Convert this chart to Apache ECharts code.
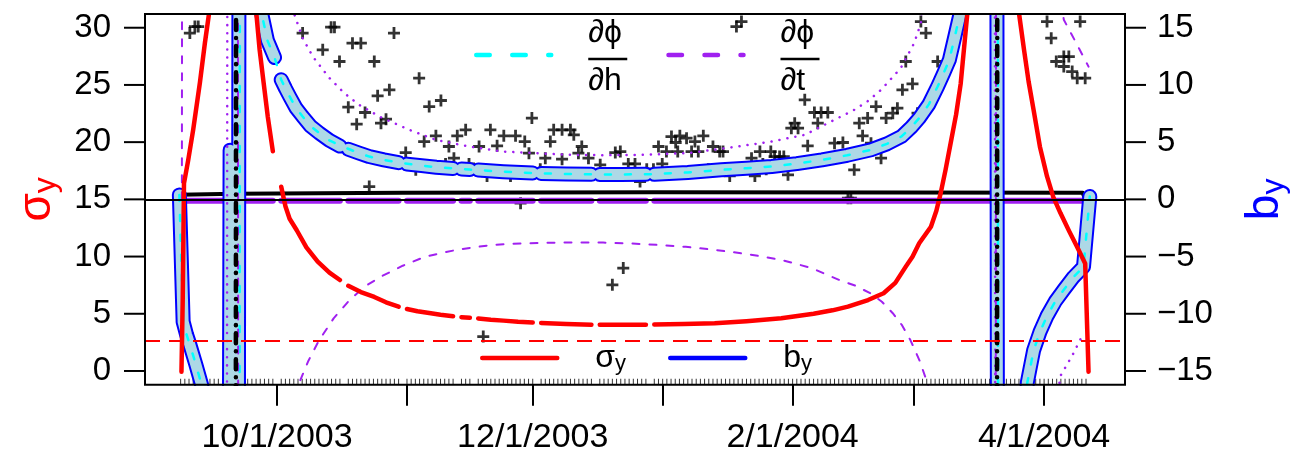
<!DOCTYPE html>
<html><head><meta charset="utf-8">
<script src="https://cdn.jsdelivr.net/npm/echarts@6/dist/echarts.min.js"></script>
<style>html,body{margin:0;padding:0;background:#fff}#c{width:1298px;height:456px}</style>
</head><body><div id="c"></div>
<script>
// x = days after 1 Oct 2003
const xTickDays = [0, 31, 61, 92, 123, 152, 183];
const xLabelDays = [0, 61, 123, 183];
const xLabels = ['10/1/2003', '12/1/2003', '2/1/2004', '4/1/2004'];
const sigmaTicks = [0, 5, 10, 15, 20, 25, 30];
const bTicks = [-15, -10, -5, 0, 5, 10, 15];
const sigmaRef = 2.63;
const bRef = 0;

// sigma_y (left axis)
const sigmaData = [[-22.8,-0.06],[-22.5,6.2],[-22.2,16.4],[-21.2,18.4],[-20.0,21.1],[-18.4,25.2],[-17.2,28.7],[-16.2,31.3],[-15,40],[-12.5,80],[-10,300],[-7.5,80],[-6,50],[-4.95,31.3],[-4.16,28.1],[-3.2,25.2],[-2.2,22.2],[-1,19.2],null,[1,16.1],[2,14.4],[3,13.3],[4.7,12.3],[7,10.8],[9.7,9.55],[12.5,8.6],[15,7.95],null,[17,7.45],[20,6.9],[23.2,6.47],[26,6.0],[29,5.62],null,[31,5.42],[33.5,5.22],[36.3,5.07],[39,4.92],[42,4.78],null,[44,4.70],[46,4.65],null,[48,4.59],[51,4.48],[54,4.4],[57.5,4.3],[61,4.23],null,[63,4.19],[69,4.1],[75,4.05],null,[77,4.05],[82,4.04],[88,4.05],null,[90,4.07],[97,4.1],[104.4,4.17],[112,4.35],[120.3,4.61],[128,5.0],[132.5,5.3],[136.2,5.62],[141,6.2],[144.7,6.79],[147.5,7.7],[150,9.12],[151.6,9.99],[153.2,11.16],[156,12.61],[157.3,14.0],[158.3,15.5],[159.5,17.6],[160.7,19.9],[162,22.4],[163.1,25.1],[164.7,31.3],[166.5,45],[169,90],[171.5,300],[174,90],[175.8,45],[177,31.3],[178.2,28.1],[179.3,25.3],[180.5,22.8],[182,19.6],[183.7,17.0],[185.2,15.2],[186.9,13.8],[189,12.2],[190.8,10.9],[192.8,9.4],[193.6,-0.06]];

// b_y (right axis)
const bData = [[-23.3,0.39],[-22.4,-10.7],[-21.6,-11.8],[-20.8,-12.7],[-19.4,-14.4],[-18.0,-16.2],[-16,-22],[-14.5,-60],[-13.2,-300],[-11.2,4.3],[-10.1,-300],[-8.2,300],[-6,25],[-3.7,16.3],[-2.3,13.9],[-0.6,12.4],null,[1.0,10.45],[2,9.7],[3.0,9.0],[4.5,8.0],[6.1,7.24],[8,6.4],[10.1,5.79],[12.5,5.15],[15,4.66],null,[17,4.38],[19.5,4.05],[22,3.74],[25.5,3.45],[29,3.21],null,[31,3.08],[34.5,2.95],[38,2.81],[42,2.70],null,[44,2.65],[46,2.61],null,[48,2.56],[54,2.42],[61,2.30],null,[63,2.27],[69,2.22],[75,2.19],null,[77,2.18],[82,2.18],[88,2.19],null,[90,2.19],[98,2.35],[106,2.58],[112,2.72],[118,2.87],[124,3.12],[130,3.45],[136,3.85],[141.7,4.33],[145.5,4.85],[149,5.5],[151.3,6.3],[153.2,7.1],[155.5,8.3],[157.6,9.86],[159,11.0],[160.4,12.19],[161.8,14.38],[163,16.3],[165,25],[170.9,300],[172.7,-300],[175,-60],[177.5,-25],[179,-16.0],[180.5,-13.2],[182,-11.6],[183.7,-10.2],[185.7,-8.9],[187.7,-7.9],[190,-6.8],[192.4,-5.9],[193.9,0.25]];

// dphi/dh
const dhData = [[-23.3,0.39],[-22.4,-10.7],[-21.6,-11.8],[-20.8,-12.7],[-19.4,-14.4],[-18,-16.2],[-15,-30],[-11.5,-80],[-9.3,-300],[-8.5,300],[-6,25],[-3.7,16.3],[-2.3,13.9],[-0.6,12.4],[1,10.45],[2,9.7],[3,9.0],[4.5,8.0],[6.1,7.24],[8,6.4],[10.1,5.79],[12.5,5.15],[15.6,4.62],[19.5,4.05],[22,3.74],[25.5,3.45],[29,3.21],[34.5,2.95],[38,2.81],[46,2.6],[54,2.42],[61.6,2.29],[69,2.22],[76,2.18],[82,2.18],[88.5,2.19],[98,2.35],[106,2.58],[112,2.72],[118,2.87],[124,3.12],[130,3.45],[136,3.85],[141.7,4.33],[145.5,4.85],[149,5.5],[151.3,6.3],[153.2,7.1],[155.5,8.3],[157.6,9.86],[159,11.0],[160.4,12.19],[161.8,14.38],[163,16.3],[165,25],[171.6,300],[172.4,-300],[175,-60],[177.5,-25],[179,-16.0],[180.5,-13.2],[182,-11.6],[183.7,-10.2],[185.7,-8.9],[187.7,-7.9],[190,-6.8],[192.4,-5.9],[193.9,0.25]];

// dphi/dt
const dtData = [[-22.7,0],[-22.3,200],[-9.6,200],[-9.0,-200],[-1,-60],[3,-25],[5.1,-16.2],[7.5,-14.1],[9.9,-12.4],[13.5,-10.4],[17.3,-8.8],[21,-7.6],[24.8,-6.75],[30,-5.8],[35.4,-5.0],[43,-4.4],[51.3,-3.98],[59,-3.84],[67.2,-3.78],[77.8,-3.78],[84,-3.85],[90.6,-3.98],[97.5,-4.15],[104.4,-4.41],[112.5,-4.8],[120.3,-5.29],[127.5,-6.0],[134.1,-7.04],[138,-7.55],[141.5,-8.2],[144.3,-8.95],[146.9,-9.95],[149.1,-11.0],[151.1,-12.3],[153.3,-14.1],[155.3,-16.2],[158,-25],[165,-60],[171.1,-200],[171.9,200],[178,60],[184,25],[187.7,15.7],[190.9,13.5],[193.6,11.6]];

// purple dotted curve
const dotData = [[-12.3,-200],[-11.5,200],[-5,60],[2,30],[4.2,16.1],[6.1,14.1],[8.5,12.5],[12.5,10.6],[16,9.3],[19.6,8.26],[24.4,7.24],[31.5,6.08],[37.9,5.2],[45.8,4.62],[53.7,4.18],[61.6,4.04],[69.6,3.89],[78,3.86],[86.2,3.89],[98.1,4.04],[110,4.62],[117.9,5.05],[125.9,5.64],[131.4,6.66],[137.7,7.82],[141,8.6],[144.1,9.57],[148.8,11.47],[152,13.65],[153.6,15.4],[156,25],[165,60],[170.9,200],[171.7,-200],[178,-60],[183,-30],[186.8,-15.5],[189.8,-13.6],[192.4,-11.7]];

// thick purple near zero
const purpleZeroData = [[-23,-0.12],[-1,-0.12],null,[1,-0.12],[15,-0.12],null,[17,-0.12],[29,-0.12],null,[31,-0.12],[42,-0.12],null,[44,-0.12],[46,-0.12],null,[48,-0.12],[61,-0.12],null,[63,-0.12],[75,-0.12],null,[77,-0.12],[88,-0.12],null,[90,-0.12],[192.3,-0.12]];

// black near-zero line and its dash-dot pole lines
const blackZeroData = [[-23.3,0.4],[-10,0.5],[30,0.58],[90,0.62],[150,0.6],[192.2,0.57],[192.7,0.1]];
const blackPoleData = [[-10.2,-300],[-9.4,300],null,[171.4,-300],[172.2,300]];

// observation days (rug)
const rugSpans = [[-23,-1],[1,15],[17,29],[31,42],[44,46],[48,61],[63,75],[77,88],[90,193]];

// + points (b units)
const plusData = [[-23.2,0.02],[-20.8,14.53],[-19.6,15.10],[-18.8,15.10],[6.1,14.53],[10.9,13.07],[12.9,15.05],[13.7,15.05],[14.9,12.05],[17.0,8.06],[18.0,13.65],[19.0,6.57],[20.0,13.65],[21.0,7.59],[22.0,1.12],[23.2,12.05],[24.0,9.05],[24.8,6.66],[26.0,7.01],[26.8,9.57],[27.9,14.53],[29.1,3.10],[30.7,4.09],[32.2,3.10],[33.1,2.58],[33.9,10.59],[35.1,5.05],[36.3,8.11],[37.9,5.55],[39.1,8.64],[40.2,3.10],[41.0,4.62],[42.2,3.60],[43.0,5.55],[45.0,6.08],[45.8,3.10],[48.2,4.62],[49.2,-11.99],[50.1,2.05],[50.9,6.08],[52.5,4.68],[54.1,5.55],[55.7,2.05],[56.9,5.55],[58.1,-0.33],[59.1,5.05],[60.1,4.04],[60.8,7.10],[62.8,2.64],[64.0,3.60],[65.2,5.05],[66.0,6.08],[68.0,6.08],[68.0,3.51],[70.0,6.08],[70.8,5.64],[71.9,4.04],[72.7,4.62],[74.3,3.60],[77.1,3.02],[79.1,2.05],[80.0,-7.47],[80.7,4.09],[81.9,4.18],[82.6,-6.01],[83.8,3.10],[85.4,3.10],[86.6,1.56],[88.2,2.64],[89.8,2.64],[91.0,4.62],[91.9,3.10],[92.9,4.18],[94.1,5.49],[95.1,4.97],[95.6,4.18],[96.1,5.55],[97.7,5.35],[98.9,4.18],[99.7,5.05],[100.5,4.18],[101.7,5.55],[102.9,2.64],[104.0,4.62],[105.6,4.18],[106.4,4.18],[108.0,2.05],[108.8,2.64],[109.6,15.10],[110.8,15.54],[113.2,3.60],[114.0,2.05],[115.2,4.18],[115.9,3.10],[116.7,2.64],[117.8,4.18],[118.7,3.74],[119.9,3.74],[120.9,3.74],[121.9,2.14],[122.7,6.22],[123.5,6.66],[124.3,6.22],[125.9,8.70],[126.6,4.68],[128.2,7.59],[129.0,6.66],[129.8,7.59],[131.4,7.59],[133.0,4.91],[135.0,4.97],[136.2,0.10],[136.9,0.10],[137.7,2.58],[138.9,6.66],[139.7,5.55],[140.9,7.10],[141.7,4.91],[142.9,8.11],[144.1,3.60],[145.3,7.10],[146.9,7.53],[148.0,7.97],[149.2,9.57],[150.0,12.05],[151.6,10.10],[152.8,7.53],[153.6,15.54],[154.8,14.53],[157.6,12.05],[183.7,15.54],[184.7,14.09],[185.9,12.05],[187.7,12.48],[187.7,11.61],[188.9,12.48],[189.7,11.17],[190.9,10.59],[191.6,15.54],[192.8,10.59],[193.6,0.02]];

const FONT = 'Liberation Sans';
const X_MIN = -31.5, X_MAX = 202.3;
const S_MIN = -1.2, S_MAX = 31.2, B_MIN = -16.2, B_MAX = 16.2;
const PLOT = { left: 145, right: 170, top: 14, bottom: 71.3 };
const TICK_LEN = 21;

const pts = arr => arr.map(p => p === null ? [null, null] : p);
const rugData = [];
rugSpans.forEach(([a, b]) => { for (let d = a; d <= b; d++) rugData.push([d, B_MIN + 0.26]); });

function line(name, data, axis, color, width, type, extra) {
  return Object.assign({
    type: 'line', name: name, data: pts(data), yAxisIndex: axis, symbol: 'none', showSymbol: false,
    silent: true, connectNulls: false, animation: false,
    lineStyle: { color: color, width: width, type: type, cap: 'round', join: 'round' },
    itemStyle: { color: color }, emphasis: { disabled: true }
  }, extra || {});
}
const minus = v => (v < 0 ? '\u2212' + (-v) : String(v));
// tick mark drawn as part of each y label (a thin black bar next to the axis)
const tickRich = {
  n: { fontSize: 33, fontFamily: FONT, color: '#000' },
  gl: { width: 13, fontSize: 4 },
  gr: { width: 11, fontSize: 4 },
  k: { width: TICK_LEN, height: 2, lineHeight: 4, fontSize: 2, backgroundColor: '#000' }
};
const yAxisBase = { axisLine: { show: false, onZero: false }, splitLine: { show: false }, axisTick: { show: false }, z: 10 };

const option = {
  animation: false,
  backgroundColor: '#fff',
  grid: { left: PLOT.left, right: PLOT.right, top: PLOT.top, bottom: PLOT.bottom, show: true, borderColor: '#000', borderWidth: 2, z: 10, backgroundColor: 'transparent' },
  xAxis: { type: 'value', min: X_MIN, max: X_MAX, z: 10,
    axisLine: { show: false, onZero: false }, splitLine: { show: false },
    axisTick: { show: true, inside: false, customValues: xTickDays, length: TICK_LEN, lineStyle: { color: '#000', width: 2 } },
    axisLabel: { customValues: xLabelDays, formatter: v => { const i = xLabelDays.indexOf(v); return i >= 0 ? xLabels[i] : ''; },
      fontSize: 34, color: '#000', fontFamily: FONT, margin: 36 } },
  yAxis: [
    Object.assign({ type: 'value', position: 'left', min: S_MIN, max: S_MAX,
      axisLabel: { customValues: sigmaTicks, formatter: v => '{n|' + v + '}{gl| }{k| }', rich: tickRich, margin: 0 },
      name: '{s|\u03c3}{u|y}', nameLocation: 'middle', nameRotate: 90, nameGap: 83,
      nameTextStyle: { rich: { s: { fontSize: 46, color: '#FF0000', fontFamily: FONT }, u: { fontSize: 32, color: '#FF0000', fontFamily: FONT, padding: [18, 0, 0, 0] } } } }, yAxisBase),
    Object.assign({ type: 'value', position: 'right', min: B_MIN, max: B_MAX,
      axisLabel: { customValues: bTicks, formatter: v => '{k| }{gr| }{n|' + minus(v) + '}', rich: tickRich, margin: 0 },
      name: '{s|b}{u|y}', nameLocation: 'middle', nameRotate: 90, nameGap: 115,
      nameTextStyle: { rich: { s: { fontSize: 46, color: '#0000FF', fontFamily: FONT }, u: { fontSize: 32, color: '#0000FF', fontFamily: FONT, padding: [18, 0, 0, 0] } } } }, yAxisBase)
  ],
  legend: [
    { data: ['dphidh', 'dphidt'], left: 474, top: 17, orient: 'horizontal', itemWidth: 75, itemHeight: 14, itemGap: 39, padding: 0, selectedMode: false,
      itemStyle: { opacity: 0 },
      lineStyle: { width: 4.5, type: [13.5, 22.5], cap: 'round' },
      formatter: n => '{n|\u2202\u03d5}\n{bar| }\n{d|' + (n === 'dphidh' ? '\u2202h' : '\u2202t') + '}',
      textStyle: { padding: [0, 0, 0, 32], rich: {
        n: { fontSize: 32, lineHeight: 44, fontFamily: FONT, color: '#000' },
        bar: { width: 39, height: 2.5, lineHeight: 8, fontSize: 4, backgroundColor: '#000' },
        d: { fontSize: 32, lineHeight: 36, fontFamily: FONT, color: '#000' } } } },
    { data: ['sigma', 'by'], left: 480, top: 342, orient: 'horizontal', itemWidth: 75, itemHeight: 14, itemGap: 42, padding: 0, selectedMode: false,
      itemStyle: { opacity: 0 },
      lineStyle: { width: 4.5, type: 'solid', cap: 'round' },
      formatter: n => (n === 'sigma' ? '{s|\u03c3}{u|y}' : '{s|b}{u|y}'),
      textStyle: { padding: [0, 0, 0, 33], rich: {
        s: { fontSize: 32, fontFamily: FONT, color: '#000' },
        u: { fontSize: 22, fontFamily: FONT, color: '#000', padding: [12, 0, 0, 0] } } } }
  ],
  graphic: [
    { type: 'rect', z: 5, silent: true, shape: { x: 146, y: 0, width: 982, height: 13 }, style: { fill: '#fff' } },
    { type: 'rect', z: 5, silent: true, shape: { x: 146, y: 386, width: 982, height: 10 }, style: { fill: '#fff' } }
  ],
  series: [
    { type: 'scatter', name: 'rug', data: rugData, yAxisIndex: 1, symbol: 'rect', symbolSize: [1, 6], silent: true,
      itemStyle: { color: '#000' } },
    line('blackZero', blackZeroData, 1, '#000000', 4, 'solid', {
      markLine: { silent: true, symbol: ['none', 'none'], label: { show: false }, lineStyle: { color: '#000', width: 2, type: 'solid' }, data: [{ yAxis: bRef }] } }),
    line('purpleZero', purpleZeroData, 1, '#A020F0', 6, 'solid'),
    line('by', bData, 1, '#0000FF', 15, 'solid'),
    line('byInner', bData, 1, '#ADD8E6', 11, 'solid'),
    line('dphidh', dhData, 1, '#00FFFF', 2.5, [6, 14]),
    line('dotted', dotData, 1, '#A020F0', 2.5, [0.1, 8]),
    line('dphidt', dtData, 1, '#A020F0', 2, [7, 10]),
    line('blackPole', blackPoleData, 1, '#000000', 4.5, [10, 8, 0.1, 8]),
    { type: 'scatter', name: 'plus', data: plusData, yAxisIndex: 1, silent: true,
      symbol: 'path://M4.6,0h2.8v4.6h4.6v2.8h-4.6v4.6h-2.8v-4.6h-4.6v-2.8h4.6z', symbolSize: 12, itemStyle: { color: '#000' } },
    line('sigma', sigmaData, 0, '#FF0000', 4.5, 'solid', {
      markLine: { silent: true, symbol: ['none', 'none'], label: { show: false }, lineStyle: { color: '#FF0000', width: 2, type: [15, 9] }, data: [{ yAxis: sigmaRef }] } })
  ]
};
const chart = echarts.init(document.getElementById('c'));
chart.setOption(option);
</script>
</body></html>
